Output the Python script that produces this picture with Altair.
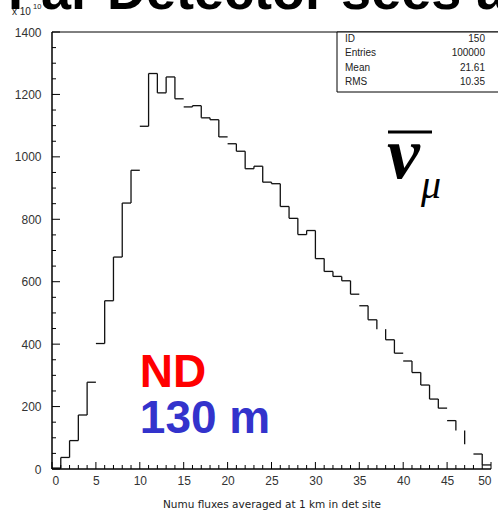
import altair as alt
import pandas as pd

# ---- data ----
bin_lo = list(range(50))
counts = [3, 37, 91, 173, 278, 402, 539, 679, 852, 957,
          1098, 1267, 1205, 1256, 1186, 1160, 1164, 1125, 1119, 1064,
          1042, 1018, 962, 970, 919, 914, 841, 803, 751, 764,
          674, 633, 617, 603, 560, 523, 478, 448, 414, 371,
          346, 309, 269, 224, 195, 155, 123, 79, 48, 13]
# segments that are not visible in the reference drawing
hidden_edges = [5, 10, 15, 20, 35, 40, 45, 48]
hidden_bins = [37, 46, 47]

x_labels = list(range(0, 51, 5))
y_labels = list(range(0, 1401, 200))
y_minor = list(range(0, 1401, 50))
x_minor = list(range(0, 51))

stats_names = ["ID", "Entries", "Mean", "RMS"]
stats_vals = ["150", "100000", "21.61", "10.35"]

W, H = 439, 437
FONT = "Liberation Sans"

xs = alt.Scale(domain=[0, 50], nice=False, zero=False)
ys = alt.Scale(domain=[0, 1400], nice=False, zero=False)

hseg = pd.DataFrame({
    "x": [b for b in bin_lo if b not in hidden_bins],
    "x2": [b + 1 for b in bin_lo if b not in hidden_bins],
    "y": [counts[b] for b in bin_lo if b not in hidden_bins],
})
edges = [e for e in range(1, 50) if e not in hidden_edges]
vseg = pd.DataFrame({
    "x": edges,
    "y": [counts[e - 1] for e in edges],
    "y2": [counts[e] for e in edges],
})

base_axes = alt.Chart(pd.DataFrame({"x": [0, 50], "y": [0, 1400]})).mark_point(opacity=0).encode(
    x=alt.X("x:Q", scale=xs, axis=alt.Axis(
        values=x_labels, ticks=False, domain=False, grid=False, format="d",
        labelFont=FONT, labelFontSize=12, labelColor="#333", labelPadding=6,
        title="Numu fluxes averaged at 1 km in det site",
        titleFont="DejaVu Sans", titleFontSize=10.5, titleFontWeight="normal",
        titleColor="#222", titlePadding=13)),
    y=alt.Y("y:Q", scale=ys, axis=alt.Axis(
        values=y_labels, ticks=False, domain=False, grid=False, format="d",
        labelFont=FONT, labelFontSize=12, labelColor="#333", labelPadding=11,
        title=None)),
)

hist_h = alt.Chart(hseg).mark_rule(color="#111", strokeWidth=1.3).encode(
    x=alt.X("x:Q", scale=xs), x2="x2:Q", y=alt.Y("y:Q", scale=ys))
hist_v = alt.Chart(vseg).mark_rule(color="#111", strokeWidth=1.3).encode(
    x=alt.X("x:Q", scale=xs), y=alt.Y("y:Q", scale=ys), y2="y2:Q")

ytick_df = pd.DataFrame({"v": y_minor})
yticks = alt.layer(
    alt.Chart(ytick_df[ytick_df["v"] % 200 == 0]).mark_rule(color="black", strokeWidth=1).encode(
        y=alt.Y("v:Q", scale=ys), x=alt.value(0), x2=alt.value(8)),
    alt.Chart(ytick_df[ytick_df["v"] % 200 != 0]).mark_rule(color="black", strokeWidth=1).encode(
        y=alt.Y("v:Q", scale=ys), x=alt.value(0), x2=alt.value(4)),
)
xtick_df = pd.DataFrame({"v": x_minor})
xticks = alt.layer(
    alt.Chart(xtick_df[xtick_df["v"] % 5 == 0]).mark_rule(color="black", strokeWidth=1).encode(
        x=alt.X("v:Q", scale=xs), y=alt.value(H), y2=alt.value(H - 7)),
    alt.Chart(xtick_df[xtick_df["v"] % 5 != 0]).mark_rule(color="black", strokeWidth=1).encode(
        x=alt.X("v:Q", scale=xs), y=alt.value(H), y2=alt.value(H - 4)),
)

frame_df = pd.DataFrame({"k": [0]})
left_line = alt.Chart(frame_df).mark_rule(color="black", strokeWidth=1.5).encode(
    x=alt.value(0), y=alt.value(0), y2=alt.value(H))
bottom_line = alt.Chart(frame_df).mark_rule(color="black", strokeWidth=1.5).encode(
    x=alt.value(0), x2=alt.value(W), y=alt.value(H))
top_line = alt.Chart(frame_df).mark_rule(color="black", strokeWidth=1).encode(
    x=alt.value(0), x2=alt.value(W + 7), y=alt.value(0))

stats_box = alt.Chart(frame_df).mark_rect(fill="white", stroke="black", strokeWidth=1).encode(
    x=alt.value(285), x2=alt.value(W + 8), y=alt.value(0), y2=alt.value(60))
stats_df = pd.DataFrame({"n": stats_names, "v": stats_vals, "row": [0, 1, 2, 3]})
stats_df["py"] = 6.5 + stats_df["row"] * 14.5
stats_names_t = alt.Chart(stats_df).mark_text(align="left", baseline="middle", font=FONT,
                                              fontSize=10, color="#222").encode(
    x=alt.value(293), y=alt.Y("py:Q", scale=None), text="n:N")
stats_vals_t = alt.Chart(stats_df).mark_text(align="right", baseline="middle", font=FONT,
                                             fontSize=10, color="#222").encode(
    x=alt.value(433), y=alt.Y("py:Q", scale=None), text="v:N")

ann = pd.DataFrame({"k": [0]})
title_t = alt.Chart(ann).mark_text(align="left", baseline="alphabetic", font=FONT, fontSize=54,
                                   fontWeight="bold", color="black",
                                   text="Far Detector sees a").encode(
    x=alt.value(-44), y=alt.value(-23))
exp_t = alt.Chart(ann).mark_text(align="left", baseline="alphabetic", font=FONT, fontSize=10,
                                 color="#222", text="x 10").encode(
    x=alt.value(-40), y=alt.value(-17))
exp_sup = alt.Chart(ann).mark_text(align="left", baseline="alphabetic", font=FONT, fontSize=7.5,
                                   color="#222", text="10").encode(
    x=alt.value(-19), y=alt.value(-23))

label_df = pd.DataFrame({"x": [10.0, 10.0], "y": [263, 115.5], "t": ["ND", "130 m"],
                         "c": ["#ff0000", "#3333cc"]})
labels = alt.Chart(label_df).mark_text(align="left", baseline="alphabetic", font=FONT,
                                       fontSize=46, fontWeight="bold").encode(
    x=alt.X("x:Q", scale=xs), y=alt.Y("y:Q", scale=ys), text="t:N",
    color=alt.Color("c:N", scale=None))

nu_t = alt.Chart(ann).mark_text(align="left", baseline="alphabetic", font="Liberation Serif",
                                fontSize=74, fontWeight="bold", fontStyle="italic",
                                color="black", text="\u03bd").encode(
    x=alt.value(335), y=alt.value(146))
mu_t = alt.Chart(ann).mark_text(align="left", baseline="alphabetic", font="Liberation Serif",
                                fontSize=40, fontStyle="italic", color="black",
                                text="\u03bc").encode(
    x=alt.value(369), y=alt.value(166))
bar = alt.Chart(ann).mark_rule(color="black", strokeWidth=3).encode(
    x=alt.value(336), x2=alt.value(380), y=alt.value(100))

chart = alt.layer(
    base_axes, hist_h, hist_v, yticks, xticks, left_line, bottom_line, top_line,
    stats_box, stats_names_t, stats_vals_t, title_t, exp_t, exp_sup, labels, nu_t, mu_t, bar,
).properties(
    width=W, height=H,
    padding={"left": 52, "top": 32, "right": 7, "bottom": 47},
    autosize=alt.AutoSizeParams(type="none"),
    background="white",
).configure_view(stroke=None)

chart.save("out.html", embed_options={"renderer": "svg", "actions": False})
